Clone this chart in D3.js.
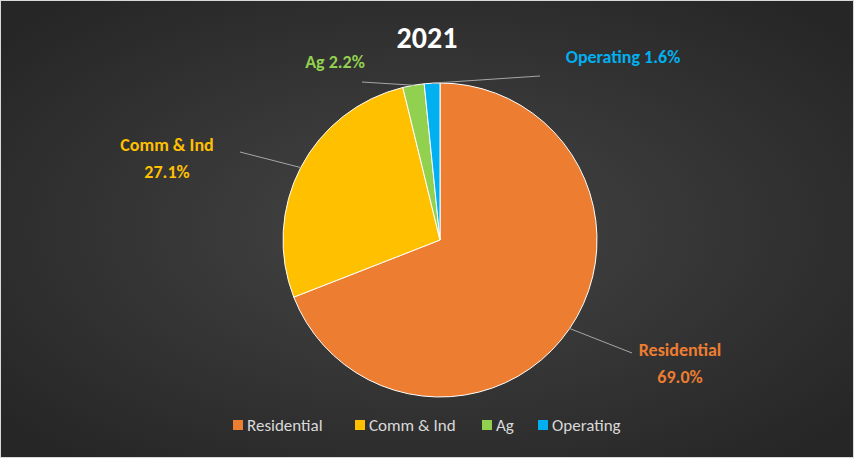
<!DOCTYPE html>
<html><head><meta charset="utf-8">
<script src="https://cdn.jsdelivr.net/npm/d3@7"></script>
<style>body{margin:0;background:#fff}svg{display:block}</style>
</head><body><div id="chart"></div>
<script>
const categories = ['Residential', 'Comm & Ind', 'Ag', 'Operating'];
const values = [69.0, 27.1, 2.2, 1.6];
const colors = ['#ED7D31', '#FFC000', '#92D050', '#00B0F0'];
const labelPos = [[680, 350], [167, 145], [335, 62], [623, 57]];
const labelLines = [[categories[0], '69.0%'], [categories[1], '27.1%'], ['Ag 2.2%'], ['Operating 1.6%']];
const leaderEnd = [[632, 353], [240, 152], [362, 82], [540, 76]];
const font = 'Calibri, Carlito, "Open Sans", sans-serif';

const W = 854, H = 458, cx = 440, cy = 240, r = 157;
const svg = d3.select('#chart').append('svg').attr('width', W).attr('height', H);
const defs = svg.append('defs');
const grad = defs.append('radialGradient').attr('id', 'bg').attr('cx', '50%').attr('cy', '50%').attr('r', '65%');
grad.append('stop').attr('offset', '0%').attr('stop-color', '#454545');
grad.append('stop').attr('offset', '100%').attr('stop-color', '#262626');
svg.append('rect').attr('x', 0.5).attr('y', 0.5).attr('width', W - 1).attr('height', H - 1)
  .attr('fill', 'url(#bg)').attr('stroke', '#d9d9d9');

svg.append('text').attr('x', 427).attr('y', 48).attr('text-anchor', 'middle')
  .attr('fill', '#fff').attr('font-family', font)
  .attr('font-weight', 'bold').attr('font-size', 30).text('2021');

const pie = d3.pie().sort(null)(values);
const arc = d3.arc().innerRadius(0).outerRadius(r);
const g = svg.append('g').attr('transform', `translate(${cx},${cy})`);
g.selectAll('path').data(pie).join('path')
  .attr('d', arc).attr('fill', (d, i) => colors[i])
  .attr('stroke', '#fff').attr('stroke-width', 1);

pie.forEach((d, i) => {
  const a = (d.startAngle + d.endAngle) / 2;
  const sx = cx + Math.sin(a) * r, sy = cy - Math.cos(a) * r;
  const [ex, ey] = leaderEnd[i];
  svg.append('line').attr('x1', sx).attr('y1', sy).attr('x2', ex).attr('y2', ey)
    .attr('stroke', '#a6a6a6').attr('stroke-width', 1);
});

labelLines.forEach((lines, i) => {
  const t = svg.append('text').attr('text-anchor', 'middle')
    .attr('fill', colors[i]).attr('font-family', font)
    .attr('font-weight', 'bold').attr('font-size', 18);
  lines.forEach((s, j) => t.append('tspan').attr('x', labelPos[i][0])
    .attr('y', labelPos[i][1] + 6 + j * 27).text(s));
});

// legend
const legX = [233, 355, 482, 538];
categories.forEach((c, i) => {
  svg.append('rect').attr('x', legX[i]).attr('y', 420).attr('width', 10).attr('height', 10).attr('fill', colors[i]);
  svg.append('text').attr('x', legX[i] + 14).attr('y', 431).attr('fill', '#d9d9d9')
    .attr('font-family', font).attr('font-size', 17).text(c);
});
</script></body></html>
